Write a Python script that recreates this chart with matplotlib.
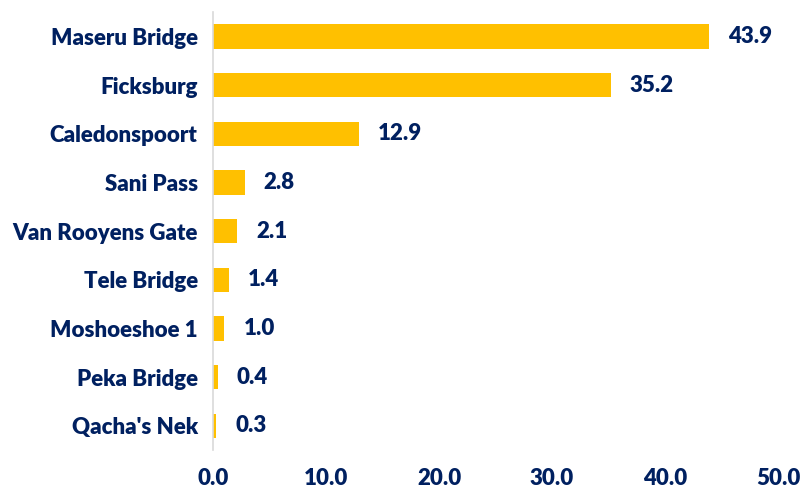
import numpy as np
import matplotlib.pyplot as plt

# Share of traffic by border post
posts = ['Maseru Bridge', 'Ficksburg', 'Caledonspoort', 'Sani Pass',
         'Van Rooyens Gate', 'Tele Bridge', 'Moshoeshoe 1', 'Peka Bridge',
         "Qacha's Nek"]
shares = [43.9, 35.2, 12.9, 2.8, 2.1, 1.4, 1.0, 0.4, 0.3]
xticks = [0, 10, 20, 30, 40, 50]

gold = '#FFC000'
navy = '#002060'

plt.rcParams['font.family'] = ['Lato', 'DejaVu Sans']
plt.rcParams['font.weight'] = 'bold'

fig = plt.figure(figsize=(8.03, 4.9), dpi=100)
ax = fig.add_axes([213/803, 1-450/490, 565/803, 438/490])

y = np.arange(len(posts))
ax.barh(y, shares, height=0.5, color=gold)
for yi, v in zip(y, shares):
    ax.text(v + 1.7, yi, '%.1f' % v, va='center', ha='left',
            fontsize=16, color=navy, fontweight='heavy')

ax.set_ylim(len(posts) - 0.5, -0.5)
ax.set_xlim(0, 50)
ax.set_yticks(y)
ax.set_yticklabels(posts, fontsize=16, color=navy, fontweight='heavy')
ax.set_xticks(xticks)
ax.set_xticklabels(['%.1f' % t for t in xticks], fontsize=16, color=navy,
                   fontweight='heavy')
ax.tick_params(axis='both', length=0)
ax.tick_params(axis='x', pad=13)
ax.tick_params(axis='y', pad=11)

for s in ['top', 'right', 'bottom']:
    ax.spines[s].set_visible(False)
ax.spines['left'].set_color('#D9D9D9')
ax.spines['left'].set_linewidth(1.2)

plt.savefig('out.png', dpi=100)
